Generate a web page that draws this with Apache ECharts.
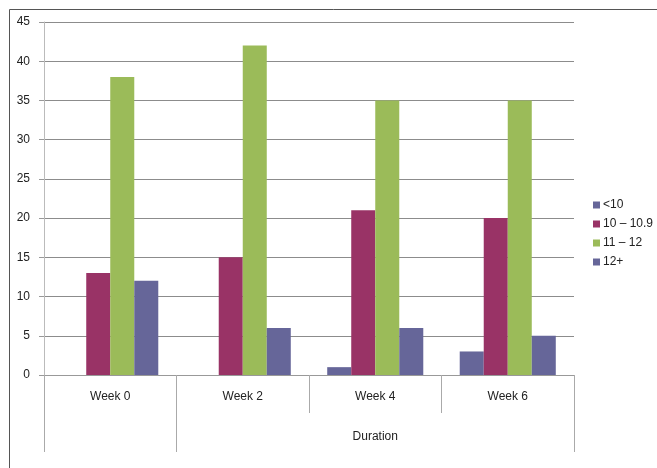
<!DOCTYPE html>
<html>
<head>
<meta charset="utf-8">
<script src="https://cdn.jsdelivr.net/npm/echarts@6/dist/echarts.min.js"></script>
<style>html,body{margin:0;padding:0;background:#fff}#c{width:657px;height:468px}</style>
</head>
<body>
<div id="c"></div>
<script>
const categories = ['Week 0', 'Week 2', 'Week 4', 'Week 6'];
const seriesNames = ['<10', '10 – 10.9', '11 – 12', '12+'];
const lt10 = [0, 0, 1, 3];
const s10to109 = [13, 15, 21, 20];
const s11to12 = [38, 42, 35, 35];
const s12plus = [12, 6, 6, 5];
const yTicks = [0, 5, 10, 15, 20, 25, 30, 35, 40, 45];
const outerLabel = 'Duration';
const colors = ['#666699', '#993366', '#9BBB59', '#666699'];

const chart = echarts.init(document.getElementById('c'));
const font = 'Liberation Sans, Arial, sans-serif';
const data = [lt10, s10to109, s11to12, s12plus];
chart.setOption({
  animation: false,
  color: colors,
  textStyle: { fontFamily: font },
  graphic: [{
    type: 'rect', shape: { x: 9.5, y: 9.5, width: 700, height: 500 },
    style: { fill: 'none', stroke: '#555', lineWidth: 1 }, silent: true
  }],
  grid: { left: 44, right: 83, top: 22, bottom: 93, containLabel: false },
  legend: {
    orient: 'vertical', left: 588, top: 194,
    itemWidth: 7, itemHeight: 7, itemGap: 7,
    icon: 'rect',
    textStyle: { fontSize: 12, color: '#222', fontFamily: font, padding: [0, 0, 0, -2] },
    data: seriesNames
  },
  xAxis: [{
    type: 'category', data: categories,
    axisLine: { lineStyle: { color: '#999' } },
    axisTick: { show: true, length: 38, lineStyle: { color: '#aaa' } },
    axisLabel: { margin: 16, fontSize: 12, color: '#222', fontFamily: font }
  }, {
    type: 'value', min: 0, max: 4, position: 'bottom', offset: 38,
    splitLine: { show: false },
    axisLine: { show: false },
    axisTick: { show: true, length: 39, customValues: [0, 1, 4], lineStyle: { color: '#aaa' } },
    axisLabel: { customValues: [2.5], formatter: () => outerLabel, margin: 18, fontSize: 12, color: '#222', fontFamily: font }
  }],
  yAxis: {
    type: 'value', min: yTicks[0], max: yTicks[yTicks.length - 1], interval: yTicks[1] - yTicks[0],
    axisLine: { show: true, lineStyle: { color: '#bbb' } },
    axisTick: { show: true, length: 5, lineStyle: { color: '#999' } },
    axisLabel: { margin: 14, fontSize: 12, color: '#222', fontFamily: font },
    splitLine: { lineStyle: { color: '#8c8c8c' } }
  },
  series: seriesNames.map((n, i) => ({
    name: n, type: 'bar', xAxisIndex: 0, data: data[i],
    barGap: '0%', barCategoryGap: '27.5%'
  }))
});
</script>
</body>
</html>
